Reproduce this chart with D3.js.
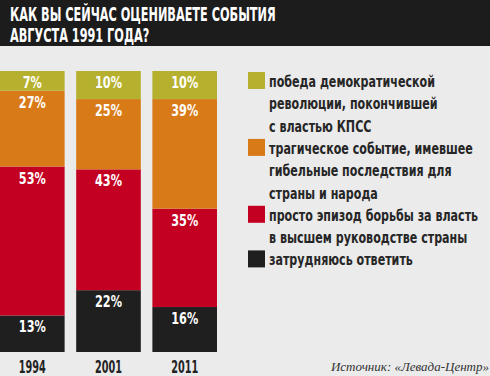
<!DOCTYPE html>
<html><head><meta charset="utf-8">
<script src="https://cdn.jsdelivr.net/npm/d3@7"></script>
<style>
html,body{margin:0;padding:0;background:#ebebeb;}
svg{display:block;}
</style></head>
<body>
<svg id="chart" width="490" height="376"></svg>
<script>
const years = ["1994", "2001", "2011"];
const seriesKeys = ["hard", "episode", "tragic", "victory"];
const hard    = [13, 22, 16];
const episode = [53, 43, 35];
const tragic  = [27, 25, 39];
const victory = [7, 10, 10];
const legendLabels = [
  ["победа демократической", "революции, покончившей", "с властью КПСС"],
  ["трагическое событие, имевшее", "гибельные последствия для", "страны и народа"],
  ["просто эпизод борьбы за власть", "в высшем руководстве страны"],
  ["затрудняюсь ответить"]
];
const legendOrder = ["victory", "tragic", "episode", "hard"];
const titleLines = ["КАК ВЫ СЕЙЧАС ОЦЕНИВАЕТЕ СОБЫТИЯ", "АВГУСТА 1991 ГОДА?"];
const sourceText = "Источник: «Левада-Центр»";

const colors = {victory:"#b5b02e", tragic:"#d97a18", episode:"#c40022", hard:"#1f1f1f"};
const valuesByKey = {hard, episode, tragic, victory};

const svg = d3.select("#chart");
const COND = "'DejaVu Sans Condensed','Liberation Sans Narrow',sans-serif";

// horizontally condense texts (each text holds its anchor in data-x / data-y)
function squeeze(sel, k){
  sel.each(function(){
    const t = d3.select(this);
    const px = +t.attr("data-x"), py = +t.attr("data-y");
    t.attr("x",0).attr("y",0).attr("transform",`translate(${px},${py}) scale(${k},1)`);
  });
}
function factorFor(node, target){
  return target / node.getComputedTextLength();
}

// header
svg.append("rect").attr("x",0).attr("y",0).attr("width",490).attr("height",46).attr("fill","#1c1c1c");
const title = svg.append("g").selectAll("text").data(titleLines).join("text")
  .attr("data-x",10).attr("data-y",(d,i)=>21+i*21)
  .attr("fill","#fff").attr("font-family",COND).attr("font-weight","bold").attr("font-size",19.5)
  .text(d=>d);
squeeze(title, factorFor(title.nodes()[0], 266));

// data table
const table = years.map((y,i)=>{
  const o = {year:y};
  seriesKeys.forEach(k=>o[k]=valuesByKey[k][i]);
  return o;
});
const stack = d3.stack().keys(seriesKeys)(table);

const x = d3.scaleBand().domain(years).range([0,217]).paddingInner(0.152).paddingOuter(0);
const y = d3.scaleLinear().domain([0,100]).range([352,71]);

const layers = svg.append("g").selectAll("g").data(stack).join("g")
  .attr("fill",d=>colors[d.key]);
layers.selectAll("rect").data(d=>d).join("rect")
  .attr("x",d=>x(d.data.year)).attr("width",x.bandwidth())
  .attr("y",d=>y(d[1])).attr("height",d=>y(d[0])-y(d[1]));

const labels = svg.append("g").selectAll("g").data(stack).join("g");
const lt = labels.selectAll("text").data(d=>d).join("text")
  .attr("data-x",d=>x(d.data.year)+x.bandwidth()/2)
  .attr("data-y",d=>y(d[1])+17)
  .attr("text-anchor","middle").attr("fill","#fff")
  .attr("font-family",COND).attr("font-weight","bold").attr("font-size",16.5)
  .text(d=>(d[1]-d[0])+"%");
squeeze(lt, factorFor(lt.filter(d=>d.data.year==="1994" && d[1]-d[0]===27).node(), 27));

// x axis labels
const xa = svg.append("g").attr("transform","translate(0,373)")
  .call(d3.axisBottom(x).tickSize(0).tickPadding(0));
xa.select(".domain").remove();
xa.selectAll("text").attr("dy",0).attr("data-x",0).attr("data-y",0)
  .attr("fill","#222").attr("font-family",COND).attr("font-weight","bold").attr("font-size",18);
squeeze(xa.selectAll("text"), factorFor(xa.select("text").node(), 27));

// legend
const lineH = 22.3;
let lineIdx = 0;
const lg = svg.append("g");
legendOrder.forEach((k,i)=>{
  const lines = legendLabels[i];
  const baseY = 87 + lineIdx*lineH;
  lg.append("rect").attr("x",248).attr("y",baseY-15).attr("width",17).attr("height",17).attr("fill",colors[k]);
  lines.forEach((t,j)=>{
    lg.append("text").attr("class","lgt").attr("data-x",269).attr("data-y",baseY + j*lineH)
      .attr("fill","#262626").attr("font-family",COND).attr("font-size",15.5).attr("font-weight","bold")
      .text(t);
  });
  lineIdx += lines.length;
});
const lgTexts = lg.selectAll("text.lgt");
const refNode = lgTexts.filter(function(){return this.textContent==="трагическое событие, имевшее";}).node();
squeeze(lgTexts, factorFor(refNode, 204));

svg.append("text").attr("x",489).attr("y",371).attr("text-anchor","end")
  .attr("font-family","'Liberation Serif','DejaVu Serif',serif").attr("font-style","italic")
  .attr("font-size",13).attr("fill","#333").text(sourceText);
</script>
</body></html>
